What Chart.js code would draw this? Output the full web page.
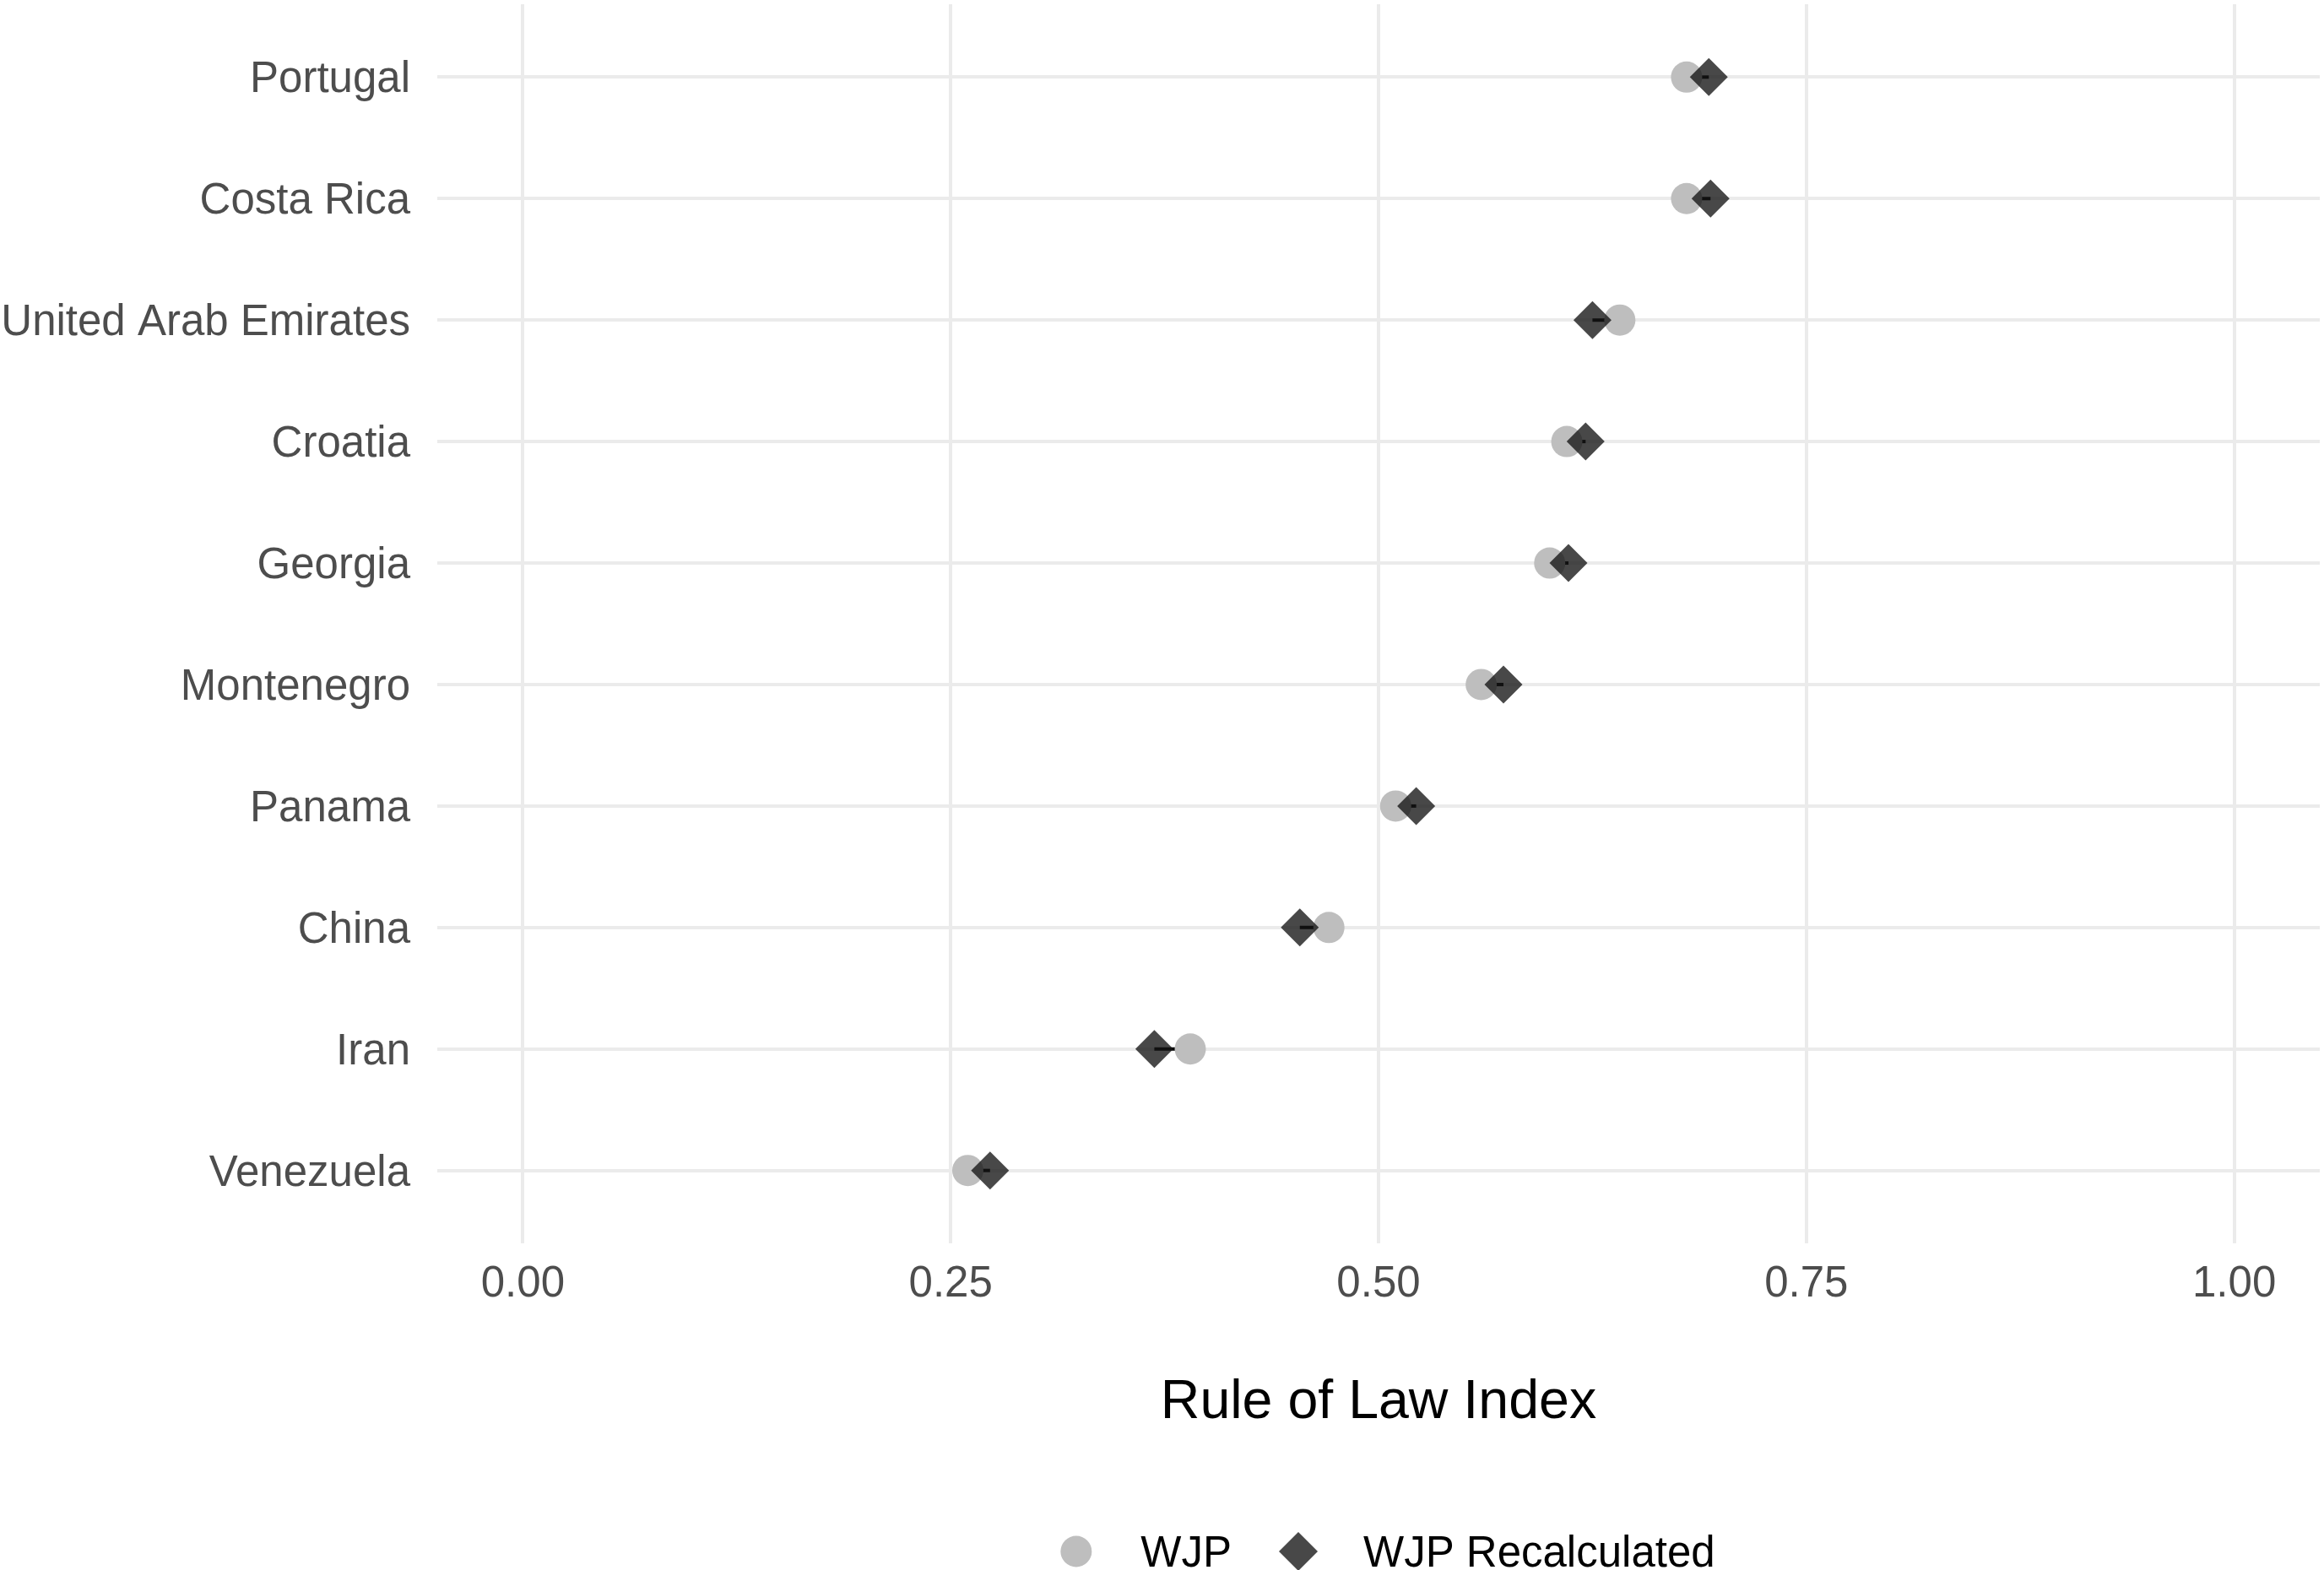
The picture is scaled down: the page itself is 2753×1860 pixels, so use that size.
<!DOCTYPE html>
<html>
<head>
<meta charset="utf-8">
<script src="https://cdn.jsdelivr.net/npm/chart.js@4"></script>
<style>
  body { margin: 0; background: #fff; }
  canvas { display: block; }
</style>
</head>
<body>
<canvas id="rolChart" width="2753" height="1860"></canvas>
<script>
// Dados
var countries = ['Portugal', 'Costa Rica', 'United Arab Emirates', 'Croatia', 'Georgia',
                 'Montenegro', 'Panama', 'China', 'Iran', 'Venezuela'];
var wjp = [0.680, 0.680, 0.641, 0.610, 0.600, 0.560, 0.510, 0.471, 0.390, 0.260];
var wjpRecalc = [0.693, 0.694, 0.625, 0.621, 0.611, 0.573, 0.522, 0.454, 0.369, 0.273];
var xTicks = [0, 0.25, 0.5, 0.75, 1];
var seriesNames = ['WJP', 'WJP Recalculated'];

var FONT = '"Liberation Sans", Arial, sans-serif';
var circleColor = '#bebebe';
var diamondColor = 'rgba(20, 20, 20, 0.78)';

function toPoints(values) {
    return values.map(function(v, i) { return { x: v, y: i }; });
}

// tira o espaço extra que o Chart.js reserva para os rótulos das pontas
function noEdgePadding(scale) {
    scale.paddingTop = 0;
    scale.paddingBottom = 0;
    scale.paddingLeft = 0;
    scale.paddingRight = 0;
}

// segmento preto entre os dois valores (fica por baixo dos pontos)
var segmentPlugin = {
    id: 'segments',
    beforeDatasetsDraw: function(chart) {
        var ctx = chart.ctx;
        var xs = chart.scales.x, ys = chart.scales.y;
        ctx.save();
        ctx.strokeStyle = '#000';
        ctx.lineWidth = 4;
        countries.forEach(function(c, i) {
            var y = ys.getPixelForValue(i);
            ctx.beginPath();
            ctx.moveTo(xs.getPixelForValue(wjpRecalc[i]), y);
            ctx.lineTo(xs.getPixelForValue(wjp[i]), y);
            ctx.stroke();
        });
        ctx.restore();
    }
};

// legenda no estilo do ggplot, centrada embaixo
var legendPlugin = {
    id: 'bottomLegend',
    afterDraw: function(chart) {
        var ctx = chart.ctx;
        var area = chart.chartArea;
        var y = chart.height - 22;
        ctx.save();
        ctx.font = '51px ' + FONT;
        ctx.textBaseline = 'middle';
        ctx.fillStyle = '#000';
        var w1 = ctx.measureText(seriesNames[0]).width;
        var w2 = ctx.measureText(seriesNames[1]).width;
        var keyToText = 58, itemGap = 56, key = 37;
        var total = key + keyToText + w1 + itemGap + 46 + keyToText - 4 + w2;
        var x = (area.left + area.right) / 2 + 11 - total / 2;

        ctx.fillStyle = circleColor;
        ctx.beginPath();
        ctx.arc(x + 18.5, y, 18.5, 0, Math.PI * 2);
        ctx.fill();
        x += key + keyToText;
        ctx.fillStyle = '#000';
        ctx.fillText(seriesNames[0], x, y + 4);
        x += w1 + itemGap;

        ctx.fillStyle = diamondColor;
        ctx.beginPath();
        ctx.moveTo(x, y);
        ctx.lineTo(x + 23, y - 23);
        ctx.lineTo(x + 46, y);
        ctx.lineTo(x + 23, y + 23);
        ctx.closePath();
        ctx.fill();
        x += 46 + keyToText - 4;
        ctx.fillStyle = '#000';
        ctx.fillText(seriesNames[1], x, y + 4);
        ctx.restore();
    }
};

var ctx = document.getElementById('rolChart').getContext('2d');
new Chart(ctx, {
    type: 'scatter',
    data: {
        datasets: [
            {
                label: seriesNames[1],
                data: toPoints(wjpRecalc),
                pointStyle: 'rectRot',
                pointRadius: 22.5,
                pointHoverRadius: 22.5,
                backgroundColor: diamondColor,
                borderWidth: 0,
                order: 1
            },
            {
                label: seriesNames[0],
                data: toPoints(wjp),
                pointStyle: 'circle',
                pointRadius: 18.5,
                pointHoverRadius: 18.5,
                backgroundColor: circleColor,
                borderWidth: 0,
                order: 2
            }
        ]
    },
    options: {
        responsive: false,
        animation: false,
        layout: {
            autoPadding: false,
            padding: { top: 5, right: 5, left: 0, bottom: 159 }
        },
        plugins: {
            legend: { display: false },
            tooltip: { enabled: false }
        },
        scales: {
            x: {
                type: 'linear',
                min: -0.05,
                max: 1.05,
                afterBuildTicks: function(scale) {
                    scale.ticks = xTicks.map(function(v) { return { value: v }; });
                },
                afterFit: function(scale) {
                    scale.height = 228;
                    noEdgePadding(scale);
                },
                grid: { color: '#ebebeb', lineWidth: 4, drawTicks: false },
                border: { display: false },
                ticks: {
                    padding: 18,
                    color: '#4d4d4d',
                    font: { family: FONT, size: 51 },
                    callback: function(v) { return v.toFixed(2); }
                },
                title: {
                    display: true,
                    text: 'Rule of Law Index',
                    color: '#000',
                    font: { family: FONT, size: 64.5 },
                    padding: { top: 76, bottom: 0 }
                }
            },
            y: {
                type: 'linear',
                reverse: true,
                min: -0.6,
                max: countries.length - 1 + 0.6,
                afterBuildTicks: function(scale) {
                    scale.ticks = countries.map(function(c, i) { return { value: i }; });
                },
                afterFit: function(scale) {
                    scale.width = 518;
                    noEdgePadding(scale);
                },
                grid: { color: '#ebebeb', lineWidth: 4, drawTicks: false },
                border: { display: false },
                ticks: {
                    padding: 32,
                    labelOffset: 4,
                    color: '#4d4d4d',
                    font: { family: FONT, size: 51 },
                    callback: function(v) { return countries[v]; }
                }
            }
        }
    },
    plugins: [segmentPlugin, legendPlugin]
});
</script>
</body>
</html>
